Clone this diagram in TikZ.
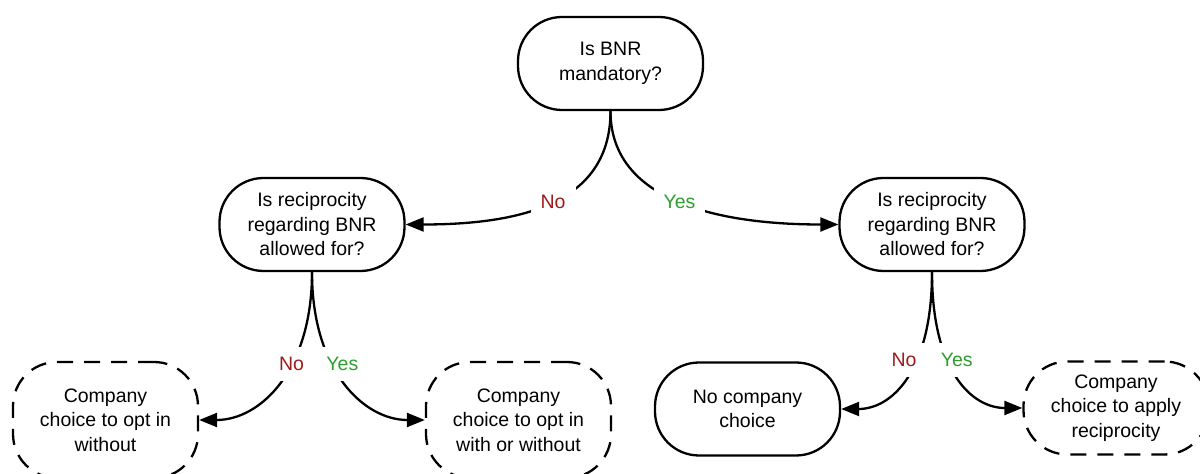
\documentclass[tikz,border=0pt]{standalone}
\usepackage{fontspec}
\setmainfont{Liberation Sans}
\usetikzlibrary{arrows.meta}
\definecolor{noRed}{HTML}{9E1B1B}
\definecolor{yesGreen}{HTML}{2E9E2E}
\begin{document}
\begin{tikzpicture}[x=1pt,y=1pt,
    question/.style={shape=rectangle,draw=black,line width=2.3pt,rounded corners=44pt,minimum width=185pt,minimum height=93pt,align=center,font=\fontsize{19.5}{24.5}\selectfont},
    choice/.style={question,dash pattern=on 16pt off 11pt},
    answer/.style={fill=white,inner sep=10pt,font=\fontsize{19.5}{24.5}\selectfont},
    no/.style={answer,text=noRed},
    yes/.style={answer,text=yesGreen},
    arrow/.style={line width=2.3pt,-{Triangle[length=18pt,width=14pt]}}]
    \clip (0,0) rectangle (1200,474);
    \node[question] (Mandatory) at (610.5,410.5) {Is BNR\\mandatory?};
    \node[question] (ReciprocityL) at (312,249.5) {Is reciprocity\\regarding BNR\\allowed for?};
    \node[question] (ReciprocityR) at (932,249.5) {Is reciprocity\\regarding BNR\\allowed for?};
    \node[choice,minimum height=116pt] (OptInWithout) at (105.5,54) {Company\\choice to opt in\\without};
    \node[choice,minimum height=116pt] (OptInEither) at (518.5,54) {Company\\choice to opt in\\with or without};
    \node[question] (NoChoice) at (747.5,65) {No company\\choice};
    \node[choice] (ApplyReciprocity) at (1116,66) {Company\\choice to apply\\reciprocity};
    \draw[arrow] (Mandatory.south) .. controls +(0,-90) and +(120,0) .. (ReciprocityL.east) node[no,pos=.5] {No};
    \draw[arrow] (Mandatory.south) .. controls +(0,-90) and +(-120,0) .. (ReciprocityR.west) node[yes,pos=.5] {Yes};
    \draw[arrow] (ReciprocityL.south) .. controls +(0,-100) and +(60,0) .. (OptInWithout.east) node[no,pos=.38] {No};
    \draw[arrow] (ReciprocityL.south) .. controls +(0,-100) and +(-60,0) .. (OptInEither.west) node[yes,pos=.38,xshift=10pt] {Yes};
    \draw[arrow] (ReciprocityR.south) .. controls +(0,-100) and +(50,0) .. (NoChoice.east) node[no,pos=.38,xshift=-12pt] {No};
    \draw[arrow] (ReciprocityR.south) .. controls +(0,-100) and +(-50,0) .. (ApplyReciprocity.west) node[yes,pos=.38,xshift=9pt] {Yes};
\end{tikzpicture}
\end{document}
